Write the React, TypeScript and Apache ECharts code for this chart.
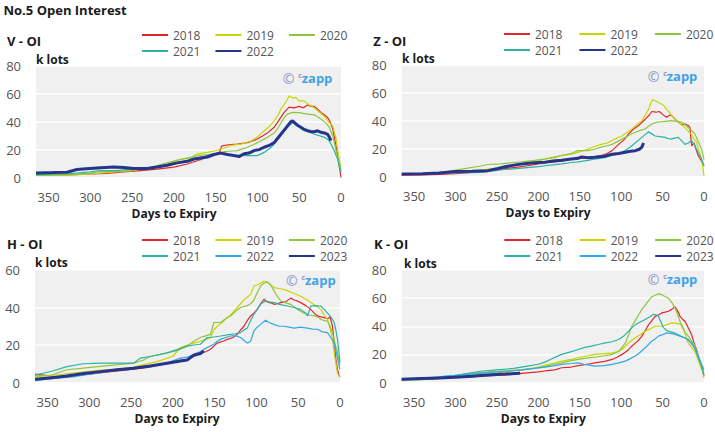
import React, { useEffect, useRef } from "react";
import * as echarts from "echarts";

const FONT = "'Open Sans', 'Noto Sans', sans-serif";

type Pt = [number, number];

// ---- V panel ----
const v2018: Pt[] = [[365,1.5],[340,1.5],[320,2],[300,2.5],[280,3],[260,4],[240,5],[220,6],[200,7.5],[185,9.5],[172,12],[160,14.5],[150,17],[145,18.5],[143,22.5],[135,23.5],[124,24],[112,25],[100,27.6],[88,32],[80,36],[76,39.5],[68,46.7],[62,50.5],[56,50],[50,51],[45,50],[40,52],[36,51],[32,51],[28,49],[24,46.7],[20,45],[16,43],[13,40],[10,35],[7,26],[4,16],[2,8],[0,0]];
const v2019: Pt[] = [[365,1.5],[330,1.5],[300,2.5],[270,4],[250,5],[230,7],[210,9],[192,13],[180,14],[172,17],[160,18],[152,19],[140,21],[132,23],[120,24],[108,26],[100,29],[92,33.6],[85,37],[80,40.7],[75,45],[72,49],[66,54],[62,58.6],[58,57],[54,57.5],[50,55],[44,55],[38,52],[32,50],[26,47],[20,44],[15,40],[10,37],[6,28],[3,16],[1.5,11],[0,8]];
const v2020: Pt[] = [[365,1.5],[330,2],[300,3],[290,4],[270,4.5],[250,5],[230,7],[215,9.5],[205,11],[192,13],[180,14.5],[172,15.7],[160,16.5],[152,17],[140,18.5],[130,19],[124,19.3],[112,21.7],[100,25],[88,28.8],[80,32],[76,34.8],[68,43],[64,45.5],[58,46.7],[50,46.5],[40,45.5],[32,45],[24,42],[18,39],[14,36],[10,30],[8,25],[5,17],[2,10],[0,5]];
const v2021: Pt[] = [[365,2],[330,2.5],[300,4],[290,5],[270,5],[250,6],[230,7],[210,9],[190,11.5],[180,12.5],[168,14.5],[155,16.5],[144,18],[135,17],[125,16],[112,15.7],[100,15.7],[92,18],[85,21],[80,24],[72,30],[64,36],[58,39.5],[52,37],[44,33.6],[38,32.5],[32,31],[26,30],[20,28.8],[15,27],[12,24],[8,19],[4,13],[2,8],[0,4]];
const v2022: Pt[] = [[365,3.3],[345,3.5],[328,3.8],[316,5.7],[305,6.3],[292,6.9],[272,7.6],[260,7.2],[248,6.4],[232,6.4],[220,7.5],[208,8.8],[196,10.5],[184,11.6],[176,13.3],[168,14],[160,14.7],[152,16.5],[144,17.5],[136,16.5],[128,15.7],[122,15],[116,17],[110,17.5],[104,19.3],[98,20],[92,21.7],[86,23],[80,25],[76,28],[72,31],[68,34],[64,37],[60,40],[58,40.7],[55,39],[52,37.5],[48,36],[44,34.5],[40,33.6],[36,33],[32,32.8],[28,33.5],[24,32.4],[20,32],[16,31],[14,29],[12,26.4]];

// ---- Z panel ----
const z2018: Pt[] = [[365,1],[340,1.2],[320,1.5],[300,2],[280,3],[270,4],[250,5],[235,6],[220,7],[200,9],[190,10],[180,10.5],[172,11],[160,12.5],[150,13],[140,13.7],[132,14],[124,15],[117,16.5],[111,18.5],[103,23],[97,26],[91,30.5],[85,34],[79,36.5],[71,41],[66,44],[63,46.5],[58,46],[54,46.5],[51,45],[47,43],[45,42.4],[41,44],[39,43.6],[35,41],[31,39],[27,37],[23,37.6],[19,36.5],[17,35],[15,22],[12,24],[10,20],[7,15],[3,11],[0,7.7]];
const z2019: Pt[] = [[365,1.5],[330,2],[300,3],[280,4],[265,5],[250,6],[230,8],[210,10],[200,11],[192,12.5],[180,13.5],[172,15],[160,16],[152,17.3],[140,19.7],[132,21.5],[124,23],[117,24],[111,25.7],[105,27.5],[99,29],[93,31.5],[87,34],[81,37],[75,40],[71,44],[67,48],[64,53],[62,55],[58,54],[55,53],[52,52],[49,51],[45,48],[42,46],[39,43.6],[35,41],[31,39],[27,37],[23,35],[19,32.5],[15,30],[12,27],[9,24.5],[6,18],[3,12.5],[1,5],[0,0.5]];
const z2020: Pt[] = [[365,1.5],[330,2],[310,3.5],[300,4.6],[285,6],[270,7.5],[261,8.6],[245,9],[230,10],[220,10.5],[205,11.5],[192,12.5],[180,14],[172,15],[160,16.5],[152,18.5],[140,18.5],[132,19.5],[124,21],[117,22],[111,23],[103,25.5],[95,28],[89,30],[83,31.7],[77,33],[71,34],[67,36],[63,37.6],[59,38.5],[55,39],[47,39.5],[39,40],[33,39.5],[27,39],[23,37],[19,35],[15,33],[11,30.5],[7,25],[3,19.7],[0,12]];
const z2021: Pt[] = [[365,1.5],[330,2],[300,2.5],[270,3],[255,4],[240,5],[220,6],[200,7],[192,7.7],[180,8.5],[172,9],[160,10],[152,10.5],[140,11.5],[132,12.5],[120,13.5],[111,15],[105,16],[99,17.3],[93,19.5],[87,22],[81,25],[75,28],[70,30.5],[67,32],[63,30.5],[59,29],[53,28.5],[47,28],[43,27],[39,26.9],[35,27.5],[31,28],[27,25.5],[23,23],[19,24],[15,25.7],[13,24],[11,22],[7,17],[3,12.5],[0,7.7]];
const z2022: Pt[] = [[365,1.8],[340,2],[320,2.5],[300,3.5],[280,3.8],[261,4.2],[250,5.5],[240,7],[226,8.5],[212,9.5],[200,10],[192,10.2],[180,11.2],[172,11.6],[160,12.5],[152,13],[148,14],[140,13.5],[132,13.7],[120,14.5],[111,16],[103,16.5],[95,17.3],[89,18],[83,18.5],[78,19.5],[75,21],[73,24]];

// ---- H panel ----
const h2018: Pt[] = [[365,4.5],[355,4],[340,3],[320,3.5],[300,4.5],[280,5.5],[260,6.5],[250,7],[230,8],[210,10],[195,11.5],[183,12.4],[175,14],[167,16],[160,16.5],[155,17.7],[147,21],[140,22],[135,23],[128,24],[123,25.7],[119,28],[115,30],[111,33],[107,35.5],[103,37],[99,39],[95,42],[91,44.4],[87,43],[83,42.5],[79,41.7],[75,42],[71,42.6],[65,43],[59,45],[55,44],[51,43.5],[47,42.6],[41,41],[35,39],[31,37],[27,35.5],[23,35],[19,34.6],[15,34],[12,35],[9,30],[7,22],[5,12.4],[3,7],[1,3.5],[0,3]];
const h2019: Pt[] = [[365,3],[340,4],[320,5],[300,6],[290,6.5],[270,7],[250,8],[235,9.5],[220,11],[210,12.5],[200,14],[191,18.6],[183,20],[175,21],[167,22],[160,23],[155,24],[151,28],[147,30],[141,32],[135,34.6],[129,37],[123,40],[119,42],[115,44],[111,45.5],[107,47],[103,51.5],[99,52],[95,53],[91,54],[89,54],[85,53],[79,50.6],[71,50],[63,49],[55,47.5],[47,46],[39,44],[31,41.5],[23,39],[19,36],[15,33.7],[12,29],[9,23],[6,13],[3,5],[1,3.5],[0,3]];
const h2020: Pt[] = [[365,3.5],[345,4],[327,6.8],[310,7.5],[287,8.6],[265,9.5],[247,10.3],[235,12],[227,14],[215,15],[207,15.8],[195,17],[183,19.4],[175,22],[167,24],[160,25],[155,25.7],[151,32],[143,32],[137,34],[131,35.5],[125,38],[119,40],[111,41],[107,42],[103,44],[99,48],[95,51.5],[91,53],[87,53.6],[83,52],[79,49],[75,46],[71,43.5],[65,42.5],[59,41.7],[51,39],[43,37],[37,36],[31,35.5],[27,35],[23,33.7],[19,33],[15,32.8],[12,30],[9,26.6],[6,21],[3,16],[1,11],[0,9]];
const h2021: Pt[] = [[365,4],[345,6],[327,8.5],[307,10],[287,10.3],[267,10.3],[247,10.3],[239,13],[225,14],[207,15.8],[195,17.5],[183,19.4],[175,20],[167,20.4],[159,24],[155,24],[143,24.8],[131,25.7],[125,26],[119,26.6],[115,28],[111,29],[107,33],[103,36.4],[99,39],[95,41.7],[91,43],[89,43.5],[85,43],[79,42.6],[71,41.5],[63,40.8],[55,40],[47,39],[41,37],[39,35.5],[37,38],[35,40.8],[29,41],[23,40.8],[19,39],[15,37],[11,35],[7,32],[5,28],[3,23],[1,15],[0,10.6]];
const h2022: Pt[] = [[365,1],[345,2],[320,3],[300,4.5],[290,5],[270,6.5],[250,7.6],[230,9],[210,10],[191,13],[183,13.5],[175,15],[167,16.5],[159,18.6],[151,20.4],[147,22],[143,23],[137,24],[131,24.8],[125,25],[119,24],[115,22.5],[111,21],[107,22],[103,27.5],[99,29.5],[95,31],[89,33.2],[85,32],[79,31],[73,30],[67,30],[61,29.5],[55,29],[47,29.5],[39,29],[33,28.5],[27,28.4],[21,27],[15,26.6],[11,24],[7,21],[4,15],[1,8.8],[0,7]];
const h2023: Pt[] = [[365,1.7],[345,2.5],[327,3.5],[307,4.8],[287,5.8],[267,6.8],[247,7.6],[227,8.8],[207,10.3],[191,11.5],[183,12],[175,14.5],[167,15.5],[163,16.8]];

// ---- K panel ----
const k2018: Pt[] = [[365,2],[330,2.5],[300,3.5],[270,4.5],[250,5],[235,5.5],[220,6.5],[200,7.5],[192,8.2],[180,9],[172,10.5],[160,11],[152,12],[140,13],[132,14],[120,15],[111,16.4],[105,18],[99,20],[95,21.5],[91,23.5],[87,26],[83,28],[79,30],[75,33],[71,37],[67,41],[63,44],[59,47],[55,48],[51,49.5],[47,50],[43,50.7],[39,52],[35,53.8],[31,50],[29,47],[26,45],[23,43.6],[19,39],[15,34],[12,28],[9,23.5],[6,17],[3,11.7],[0,4.6]];
const k2019: Pt[] = [[365,2],[330,3],[300,4],[280,5],[260,6],[240,7.5],[220,9],[200,11],[190,12.5],[180,14],[172,15.2],[160,16.5],[152,17.6],[140,19],[132,20],[120,20.5],[111,21],[105,22],[99,23.5],[91,28.2],[83,31.8],[77,34],[71,36.5],[65,38],[59,40],[55,40],[51,40],[45,41],[39,42.4],[33,42],[27,41.3],[25,39],[23,35],[21,31],[19,28],[15,25],[11,22],[7,16],[3,9.3],[0,7]];
const k2020: Pt[] = [[365,1.5],[340,2],[320,3],[300,5],[290,6],[270,7],[250,8],[235,8.5],[220,9],[205,10],[192,11.5],[180,13],[172,14],[160,15.5],[152,16.4],[140,17.5],[128,18.3],[120,19],[111,20],[103,22],[99,25],[95,28],[91,34],[87,40],[83,44],[79,48],[75,52],[71,55],[67,58],[63,61],[59,62],[55,63],[51,62.5],[47,61],[43,60],[39,57],[35,53],[31,47],[27,40],[23,36],[19,33],[15,29.5],[11,26],[7,19],[3,11.7],[0,3.4]];
const k2021: Pt[] = [[365,2.5],[330,3.5],[300,5],[285,6.5],[270,8],[250,9],[230,10],[215,11.5],[200,13],[192,14.5],[185,16.5],[172,20],[160,22],[152,23.5],[144,25],[136,25.9],[128,27],[119,28.2],[111,29],[103,30.6],[97,33],[91,36.5],[87,39],[83,41],[77,43],[71,44.8],[65,47],[61,48.4],[57,48],[55,47],[52,43],[49,39],[45,37],[43,36.5],[37,35.5],[31,34],[25,32],[19,30.6],[15,27.5],[11,24.7],[7,18],[3,11.7],[0,5.8]];
const k2022: Pt[] = [[365,2],[330,3.5],[300,5],[280,6],[260,7],[240,8],[220,9],[205,10],[192,11],[180,12],[172,12.9],[160,13.5],[152,14],[145,13],[140,12.5],[132,11.7],[120,12],[111,12.9],[103,14],[95,15.2],[89,17],[83,18.8],[77,21.5],[71,24.7],[67,27],[63,29.4],[59,31],[55,33],[50,34],[45,35.3],[41,35],[35,34.2],[29,33],[23,31.8],[19,30],[15,28.2],[11,24],[7,18.8],[3,13],[0,9.3]];
const k2023: Pt[] = [[365,2.3],[340,2.8],[320,3.2],[301,3.7],[280,4.5],[261,5.4],[240,6],[224,6.6],[222,6.8]];

const RED = "#e2262c";
const YEL = "#c9d500";
const GRN = "#8cc63f";
const TEAL = "#2bb3a3";
const LBLUE = "#33a8e6";
const NAVY = "#27348b";

type S = { name: string; color: string; width: number; data: Pt[] };
type Panel = {
  pos: { left: number; top: number; width: number; height: number };
  title: string; titleXY: [number, number];
  kXY: [number, number]; daysXY: [number, number]; wmXY: [number, number];
  grid: { left: number; top: number; width: number; height: number };
  yMax: number;
  legendLeft: number; legendRows: [number, number]; legendGap: number;
  series: S[];
  mainTitle?: boolean;
};

const panels: Panel[] = [
  {
    pos: { left: 0, top: 0, width: 357, height: 222 },
    title: "V - OI", titleXY: [7, 41], kXY: [36, 59.5], daysXY: [174, 213.6], wmXY: [282.7, 78.3],
    grid: { left: 36, top: 66, width: 305, height: 111.5 }, yMax: 80,
    legendLeft: 141, legendRows: [35, 51], legendGap: 14,
    series: [
      { name: "2018", color: RED, width: 1.2, data: v2018 },
      { name: "2019", color: YEL, width: 1.2, data: v2019 },
      { name: "2020", color: GRN, width: 1.2, data: v2020 },
      { name: "2021", color: TEAL, width: 1.2, data: v2021 },
      { name: "2022", color: NAVY, width: 3, data: v2022 },
    ],
    mainTitle: true,
  },
  {
    pos: { left: 357, top: 0, width: 358, height: 222 },
    title: "Z - OI", titleXY: [16.3, 40.5], kXY: [45, 58], daysXY: [191, 212.7], wmXY: [290.7, 76],
    grid: { left: 44.7, top: 64.7, width: 302.3, height: 111.8 }, yMax: 80,
    legendLeft: 146, legendRows: [34, 50], legendGap: 16,
    series: [
      { name: "2018", color: RED, width: 1.2, data: z2018 },
      { name: "2019", color: YEL, width: 1.2, data: z2019 },
      { name: "2020", color: GRN, width: 1.2, data: z2020 },
      { name: "2021", color: TEAL, width: 1.2, data: z2021 },
      { name: "2022", color: NAVY, width: 3, data: z2022 },
    ],
  },
  {
    pos: { left: 0, top: 222, width: 357, height: 210 },
    title: "H - OI", titleXY: [7, 21.7], kXY: [35, 40.8], daysXY: [177, 196.3], wmXY: [286, 58],
    grid: { left: 35, top: 48, width: 305, height: 112.5 }, yMax: 60,
    legendLeft: 141, legendRows: [18, 34], legendGap: 14,
    series: [
      { name: "2018", color: RED, width: 1.2, data: h2018 },
      { name: "2019", color: YEL, width: 1.2, data: h2019 },
      { name: "2020", color: GRN, width: 1.2, data: h2020 },
      { name: "2021", color: TEAL, width: 1.2, data: h2021 },
      { name: "2022", color: LBLUE, width: 1.2, data: h2022 },
      { name: "2023", color: NAVY, width: 3, data: h2023 },
    ],
  },
  {
    pos: { left: 357, top: 222, width: 358, height: 210 },
    title: "K - OI", titleXY: [17, 21.5], kXY: [47, 41.8], daysXY: [186.3, 196.3], wmXY: [290.7, 57.3],
    grid: { left: 44.7, top: 48, width: 302.3, height: 112.5 }, yMax: 80,
    legendLeft: 146.3, legendRows: [18, 34], legendGap: 16,
    series: [
      { name: "2018", color: RED, width: 1.2, data: k2018 },
      { name: "2019", color: YEL, width: 1.2, data: k2019 },
      { name: "2020", color: GRN, width: 1.2, data: k2020 },
      { name: "2021", color: TEAL, width: 1.2, data: k2021 },
      { name: "2022", color: LBLUE, width: 1.2, data: k2022 },
      { name: "2023", color: NAVY, width: 3, data: k2023 },
    ],
  },
];

function buildOption(p: Panel) {
  const legendBase = {
    left: p.legendLeft,
    padding: 0,
    itemWidth: 26,
    itemHeight: 12,
    itemGap: p.legendGap,
    itemStyle: { color: "rgba(0,0,0,0)", borderColor: "rgba(0,0,0,0)", borderWidth: 0, opacity: 0 },
    textStyle: { color: "#555", fontSize: 12, fontFamily: FONT, lineHeight: 12 },
    selectedMode: false,
  };
  const names = p.series.map((s) => s.name);
  const graphic: any[] = [
    { type: "text", x: p.titleXY[0], y: p.titleXY[1], style: { text: p.title, fill: "#1a1a1a", font: `bold 13px ${FONT}`, verticalAlign: "middle", align: "left" } },
    { type: "text", x: p.kXY[0], y: p.kXY[1], style: { text: "k lots", fill: "#1a1a1a", font: `bold 12px ${FONT}`, verticalAlign: "middle", align: "left" } },
    { type: "text", x: p.daysXY[0], y: p.daysXY[1], style: { text: "Days to Expiry", fill: "#1a1a1a", font: `bold 12px ${FONT}`, verticalAlign: "middle", align: "center" } },
    { type: "text", x: p.wmXY[0], y: p.wmXY[1], style: { text: "©", fill: "#8f93c4", font: `14px ${FONT}`, verticalAlign: "middle", align: "left" } },
    { type: "text", x: p.wmXY[0] + 15.6, y: p.wmXY[1] - 3, style: { text: "c", fill: "#8f93c4", font: `bold 7px ${FONT}`, verticalAlign: "middle", align: "left" } },
    { type: "text", x: p.wmXY[0] + 19, y: p.wmXY[1], style: { text: "zapp", fill: "#3fa3e4", font: `bold 13px ${FONT}`, verticalAlign: "middle", align: "left" } },
  ];
  if (p.mainTitle) {
    graphic.push({ type: "text", x: 3.5, y: 10, style: { text: "No.5 Open Interest", fill: "#1a1a1a", font: `bold 13px ${FONT}`, verticalAlign: "middle", align: "left" } });
  }
  return {
    animation: false,
    backgroundColor: "#ffffff",
    textStyle: { fontFamily: FONT },
    grid: { ...p.grid, show: true, backgroundColor: "#f0f0f0", borderWidth: 0, containLabel: false },
    legend: [
      { ...legendBase, top: p.legendRows[0] - 6, data: names.slice(0, 3) },
      { ...legendBase, top: p.legendRows[1] - 6, data: names.slice(3) },
    ],
    xAxis: {
      type: "value", min: 0, max: 365, interval: 50, inverse: true,
      axisLine: { show: false }, axisTick: { show: false }, splitLine: { show: false },
      axisLabel: { color: "#555", fontSize: 13, fontFamily: FONT, margin: 13, formatter: (v: number) => (v % 50 === 0 ? String(v) : "") },
    },
    yAxis: {
      type: "value", min: 0, max: p.yMax, interval: 20,
      axisLine: { show: false }, axisTick: { show: false },
      splitLine: { lineStyle: { color: "#ffffff", width: 1.5 } },
      axisLabel: { color: "#555", fontSize: 13, fontFamily: FONT, margin: 15 },
    },
    series: p.series.map((s) => ({
      type: "line", name: s.name, data: s.data, symbol: "none", showSymbol: false, silent: true,
      lineStyle: { color: s.color, width: s.width }, itemStyle: { color: s.color },
      emphasis: { disabled: true },
    })),
    graphic,
  };
}

function PanelChart({ p }: { p: Panel }) {
  const ref = useRef<HTMLDivElement>(null);
  useEffect(() => {
    if (!ref.current) return;
    const chart = echarts.init(ref.current, undefined, { renderer: "svg", width: p.pos.width, height: p.pos.height });
    chart.setOption(buildOption(p) as any);
    return () => chart.dispose();
  }, [p]);
  return <div ref={ref} style={{ position: "absolute", left: p.pos.left, top: p.pos.top, width: p.pos.width, height: p.pos.height }} />;
}

export default function App() {
  return (
    <div style={{ position: "fixed", left: 0, top: 0, width: 715, height: 432, background: "#fff", overflow: "hidden" }}>
      {panels.map((p, i) => (
        <PanelChart key={i} p={p} />
      ))}
    </div>
  );
}
